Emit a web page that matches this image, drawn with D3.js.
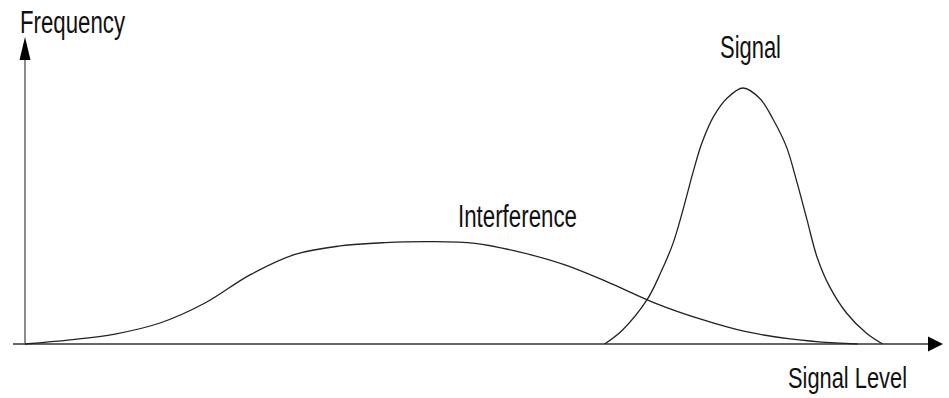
<!DOCTYPE html>
<html>
<head>
<meta charset="utf-8">
<script src="https://cdn.jsdelivr.net/npm/d3@7"></script>
<style>
  body { margin: 0; background: #fff; }
  text { font-family: "Liberation Sans", Arial, sans-serif; fill: #111; }
</style>
</head>
<body>
<div id="chart"></div>
<script>
// signal level (x) and frequency (y)
const interferenceLevel = [0, 5, 10, 15, 20, 25, 30, 35, 40, 45, 50, 55, 60, 65, 70, 75, 80, 85, 90, 92.5];
const interferenceFreq  = [0, 1.6, 3.9, 8.2, 16, 27, 35, 38.3, 39.6, 40, 39.3, 35.9, 30.9, 23.8, 16, 9.8, 4.9, 2, 0.4, 0];

const signalLevel = [64.4, 66.4, 69.1, 70.6, 72.0, 73.1, 74.3, 75.2, 76.5, 78.0, 79.8, 81.7, 83.1, 84.6, 85.7, 86.9, 88.0, 89.4, 91.3, 93.5, 95.3];
const signalFreq  = [0, 5.5, 17.2, 27.6, 39.3, 52.3, 68, 78.4, 88.8, 96, 100, 95.7, 87.9, 77.1, 64.1, 48.4, 34, 22.4, 12, 4.2, 0];

const axisLabels = ["Frequency", "Signal Level"];
const curveLabels = ["Interference", "Signal"];

const width = 949, height = 398;

const svg = d3.select("#chart")
  .append("svg")
  .attr("width", width)
  .attr("height", height);

const x = d3.scaleLinear().domain([0, 100]).range([25, 925]);
const y = d3.scaleLinear().domain([0, 100]).range([344, 88]);

const x0 = x(0), y0 = y(0);

// axes
svg.append("line")
  .attr("x1", 13).attr("x2", 930)
  .attr("y1", y0).attr("y2", y0)
  .attr("stroke", "#666").attr("stroke-width", 2);

svg.append("path")
  .attr("d", `M943,${y0} L928,${y0 - 7.5} L928,${y0 + 7.5} Z`)
  .attr("fill", "#000");

svg.append("line")
  .attr("x1", x0).attr("x2", x0)
  .attr("y1", y0).attr("y2", 55)
  .attr("stroke", "#666").attr("stroke-width", 1.5);

svg.append("path")
  .attr("d", `M${x0},37 L${x0 - 5.5},60 L${x0 + 5.5},60 Z`)
  .attr("fill", "#000");

// curves
const line = d3.line()
  .x((d) => x(d[0]))
  .y((d) => y(d[1]))
  .curve(d3.curveCatmullRom.alpha(0.5));

const series = [
  d3.zip(interferenceLevel, interferenceFreq),
  d3.zip(signalLevel, signalFreq)
];

svg.selectAll(".curve")
  .data(series)
  .enter()
  .append("path")
  .attr("class", "curve")
  .attr("d", (d) => line(d))
  .attr("fill", "none")
  .attr("stroke", "#222")
  .attr("stroke-width", 1.3);

// labels (text squeezed to match the narrow lettering)
function label(txt, px, py, len, size) {
  svg.append("text")
    .attr("x", px)
    .attr("y", py)
    .attr("textLength", len)
    .attr("lengthAdjust", "spacingAndGlyphs")
    .style("font-size", size + "px")
    .text(txt);
}

label(axisLabels[0], 20, 33, 105, 31);
label(axisLabels[1], 788, 388, 119, 29);
label(curveLabels[0], 458, 227, 119, 31);
label(curveLabels[1], 720, 58, 61, 31);
</script>
</body>
</html>
